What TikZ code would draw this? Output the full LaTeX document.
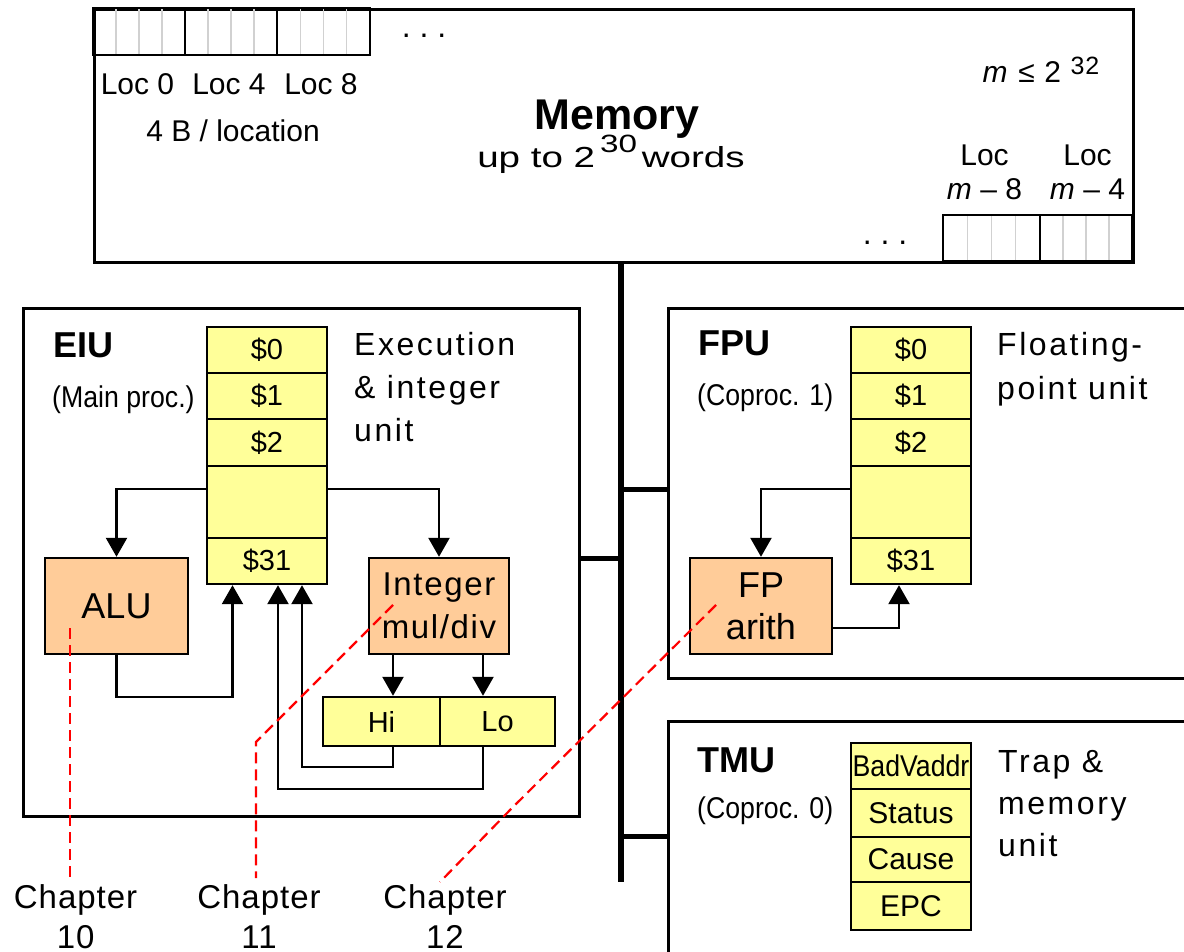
\documentclass[tikz,border=0pt]{standalone}
\usepackage{fontspec}
\setmainfont{Liberation Sans}
\newfontfamily\narrowfont{Liberation Sans}[FakeStretch=0.89]
\newfontfamily\widefont{Liberation Sans}[FakeStretch=1.33]
\usetikzlibrary{arrows.meta}
\definecolor{regyellow}{HTML}{FFFF99}
\definecolor{unitorange}{HTML}{FFCC99}
\newcommand\fsz[2]{\fontsize{#1}{#2}\selectfont}
\newcommand\trk[1]{\addfontfeature{LetterSpace=#1}}
\begin{document}
\begin{tikzpicture}[x=1pt,y=-1pt,
  box/.style={draw,line width=2.6pt,inner sep=0,anchor=north west},
  reg/.style={draw,line width=2.4pt,fill=regyellow,minimum width=120pt,inner sep=0,font=\fsz{29}{34}},
  hilo/.style={draw,line width=2.4pt,fill=regyellow,inner sep=0,minimum height=49pt,font=\fsz{29}{32}},
  unit/.style={draw,line width=2.4pt,fill=unitorange,inner sep=0,align=center,minimum height=96pt},
  arr/.style={line width=2.3pt,-{Triangle[width=21pt,length=19pt]}},
  bus/.style={line width=5.5pt},
  stub/.style={line width=5pt},
  chap/.style={draw=red,line width=2.2pt,dash pattern=on 11pt off 6pt},
  byte/.style={draw=black!18,line width=1.4pt},
  txt/.style={inner sep=0}
]
\path[use as bounding box] (0,0) rectangle (1184,952);
\clip (0,0) rectangle (1184,952);

% ---------- Memory ----------
\node[box,minimum width=1039pt,minimum height=253pt] (mem) at (93,8) {};
\foreach \a/\b in {93/185,185/277,277/370}{
  \foreach \k in {1,2,3}{\draw[byte] ({\a+(\b-\a)*\k/4},8) -- ({\a+(\b-\a)*\k/4},55);}
  \draw[line width=2.6pt] (\a,8) rectangle (\b,55);
}
\foreach \a/\b in {943/1040,1040/1132}{
  \foreach \k in {1,2,3}{\draw[byte] ({\a+(\b-\a)*\k/4},215) -- ({\a+(\b-\a)*\k/4},261);}
  \draw[line width=2.6pt] (\a,215) rectangle (\b,261);
}
\node[txt,font=\fsz{30}{36},anchor=base] (loc0) at (137.5,95) {Loc 0};
\node[txt,font=\fsz{30}{36},anchor=base] (loc4) at (229,95) {Loc 4};
\node[txt,font=\fsz{30}{36},anchor=base] (loc8) at (321,95) {Loc 8};
\node[txt,font=\fsz{30}{36},anchor=base] (bpl) at (233,142) {4 B / location};
\node[txt,font=\fsz{32}{36},anchor=base] (dots1) at (424,38) {.\ .\ .};
\node[txt,font=\bfseries\fsz{43}{46},anchor=base] (memt) at (617,130) {Memory};
\node[txt,font=\widefont\fsz{29}{34},anchor=base] (memw) at (611,168) {up to 2\,\raisebox{15pt}{\fsz{25}{28}30}\,words};
\node[txt,font=\fsz{30}{34}\trk{4},anchor=base] (mb) at (1041,83) {\textit{m}\ ≤\ 2\ \raisebox{8pt}{\fsz{25}{28}32}};
\node[txt,font=\fsz{30}{33.5},align=center,anchor=north] (lm8) at (984.5,145) {Loc\\\textit{m} – 8};
\node[txt,font=\fsz{30}{33.5},align=center,anchor=north] (lm4) at (1087.5,145) {Loc\\\textit{m} – 4};
\node[txt,font=\fsz{32}{36},anchor=base] (dots2) at (885,245) {.\ .\ .};

% ---------- Bus ----------
\coordinate (bt) at (mem.south -| 621,0);
\coordinate (bb) at (621,882);
\draw[bus] (bt) -- (bb);

% ---------- Unit boxes ----------
\node[box,minimum width=556pt,minimum height=508pt] (eiu) at (22,307) {};
\node[box,minimum width=600pt,minimum height=370pt] (fpu) at (667,307) {};
\node[box,minimum width=600pt,minimum height=300pt] (tmu) at (667,720) {};
\draw[stub] (bt |- 0,558) -- (eiu.east |- 0,558);
\draw[stub] (bt |- 0,489) -- (fpu.west |- 0,489);
\draw[stub] (bt |- 0,836) -- (tmu.west |- 0,836);

% ---------- EIU ----------
\node[txt,font=\bfseries\fsz{36}{40},anchor=base west] (eiut) at (53,357) {EIU};
\node[txt,font=\narrowfont\fsz{30}{36},anchor=base west] (eiun) at (52,407) {(Main proc.)};
\node[txt,font=\fsz{32}{43}\trk{8},align=left,anchor=north west] (eiud) at (354,332) {Execution\\\& integer\\unit};
\node[reg,minimum height=46pt] (e0) at (267,350) {\$0};
\node[reg,minimum height=46pt] (e1) at (267,396) {\$1};
\node[reg,minimum height=47pt] (e2) at (267,442.5) {\$2};
\node[reg,minimum height=72pt] (eb) at (267,502) {};
\node[reg,minimum height=46pt] (e31) at (267,561) {\$31};
\node[unit,minimum width=143pt,font=\fsz{36}{40}] (alu) at (116.5,606) {ALU};
\node[unit,minimum width=140pt,font=\fsz{33}{43}\trk{5}] (imd) at (439,606) {Integer\\mul/div};
\node[hilo,minimum width=117pt] (hi) at (381.5,721.5) {Hi};
\node[hilo,minimum width=115pt] (lo) at (497.5,721.5) {Lo};
\draw[arr] (eb.west |- 0,489) -| (alu.north);
\draw[arr] (eb.east |- 0,489) -| (imd.north);
\draw[arr] (alu.south) |- (232.5,697) -- (e31.south -| 232.5,0);
\draw[arr] (imd.south -| 393,0) -- (hi.north -| 393,0);
\draw[arr] (imd.south -| 483,0) -- (lo.north -| 483,0);
\draw[arr] (hi.south -| 393,0) |- (302,767) -- (e31.south -| 302,0);
\draw[arr] (lo.south -| 483,0) |- (278,789) -- (e31.south -| 278,0);

% ---------- FPU ----------
\node[txt,font=\bfseries\fsz{36}{40},anchor=base west] (fput) at (698,355) {FPU};
\node[txt,font=\narrowfont\fsz{30}{36},anchor=base west] (fpun) at (697,405) {(Coproc. 1)};
\node[txt,font=\fsz{32}{44}\trk{8},align=left,anchor=north west] (fpud) at (997,332) {Floating-\\point unit};
\node[reg,minimum height=46pt] (f0) at (911,350) {\$0};
\node[reg,minimum height=46pt] (f1) at (911,396) {\$1};
\node[reg,minimum height=47pt] (f2) at (911,442.5) {\$2};
\node[reg,minimum height=72pt] (fb) at (911,502) {};
\node[reg,minimum height=46pt] (f31) at (911,561) {\$31};
\node[unit,minimum width=142pt,font=\fsz{36}{42}] (fp) at (761,606) {FP\\arith};
\draw[arr] (fb.west |- 0,489) -| (fp.north);
\draw[arr] (fp.east |- 0,628) -| (f31.south -| 899,0);

% ---------- TMU ----------
\node[txt,font=\bfseries\fsz{36}{40},anchor=base west] (tmut) at (697,772) {TMU};
\node[txt,font=\narrowfont\fsz{30}{36},anchor=base west] (tmun) at (697,818) {(Coproc. 0)};
\node[txt,font=\fsz{32}{42}\trk{8},align=left,anchor=north west] (tmud) at (998,750) {Trap \&\\memory\\unit};
\node[reg,minimum height=46pt,font=\narrowfont\fsz{30}{34}] (t0) at (911,766) {BadVaddr};
\node[reg,minimum height=48pt,font=\fsz{30}{34}] (t1) at (911,813) {Status};
\node[reg,minimum height=45pt,font=\fsz{30}{34}] (t2) at (911,859.5) {Cause};
\node[reg,minimum height=48pt,font=\fsz{30}{34}] (t3) at (911,906) {EPC};

% ---------- Chapters ----------
\node[txt,font=\fsz{33}{40}\trk{3},align=center,anchor=north] (ch10) at (75.6,884) {Chapter\\10};
\node[txt,font=\fsz{33}{40}\trk{3},align=center,anchor=north] (ch11) at (259,884) {Chapter\\11};
\node[txt,font=\fsz{33}{40}\trk{3},align=center,anchor=north] (ch12) at (445,884) {Chapter\\12};
\coordinate (c10a) at (70,628);
\coordinate (c11a) at (393,605);
\coordinate (c11b) at (256,742);
\coordinate (c12a) at (716,605);
\coordinate (c12b) at (510,810);
\coordinate (c12c) at (440,882);
\draw[chap] (c10a) -- ([yshift=4pt]c10a |- ch10.north);
\draw[chap] (c11a) -- (c11b) -- ([yshift=6pt]c11b |- ch11.north);
\draw[chap] (c12a) -- (c12b) -- (c12c);
\end{tikzpicture}
\end{document}
